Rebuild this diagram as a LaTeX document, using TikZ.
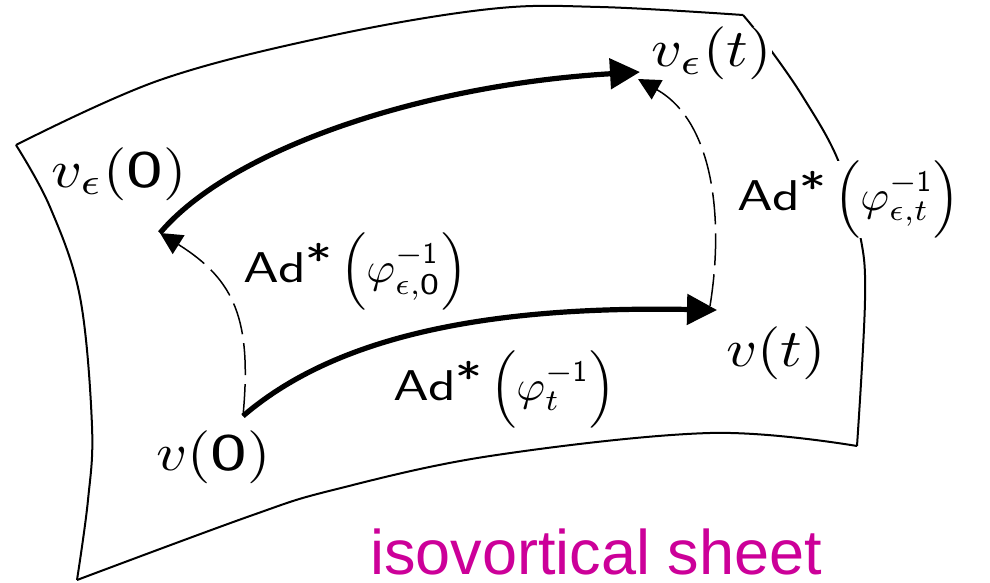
\documentclass[tikz,border=0pt]{standalone}
\usepackage{amsmath}
\usepackage{fontspec}
\newfontfamily\lib{Liberation Sans}
\newfontfamily\thsans[FakeStretch=1.3]{lmsans17-regular.otf}
\newfontfamily\thsansn{lmsans17-regular.otf}
\usetikzlibrary{arrows.meta}
\definecolor{mag}{RGB}{204,0,153}
\newcommand{\zr}{\text{\thsans 0}}
\newcommand{\on}{\text{\thsansn 1}}
\newcommand{\adst}{\text{\thsans Ad\raisebox{0.15em}{*}}}
\tikzset{
  sheet/.style={line width=1pt, line join=miter},
  solidarr/.style={line width=2.6pt, -{Triangle[length=15pt,width=15pt]}},
  dasharr/.style={line width=0.75pt, dash pattern=on 16pt off 4.5pt, -{Triangle[length=11pt,width=11pt]}},
  vlbl/.style={inner sep=0pt, xscale=3.0, yscale=2.65},
  adlbl/.style={inner sep=0pt, xscale=2.2, yscale=2.15},
}
\begin{document}
\begin{tikzpicture}[x=0.5pt,y=-0.5pt]
\useasboundingbox (0,0) rectangle (990,583);
% sheet outline
\draw[sheet] plot[smooth, tension=0.6] coordinates {(16,145) (160,80) (330,36) (490,9) (600,7) (743,15)};
\draw[sheet] plot[smooth, tension=0.6] coordinates {(743,15) (767,45) (803,97) (838,160) (860,235) (865,300) (857,446)};
\draw[sheet] plot[smooth, tension=0.6] coordinates {(77,580) (250,516) (333,490) (490,456) (710,433) (857,446)};
\draw[sheet] plot[smooth, tension=0.6] coordinates {(16,145) (50,207) (80,297) (92,426) (88,500) (77,580)};
% points
\coordinate (ve0) at (160,233);
\coordinate (vet1) at (640,72);
\coordinate (vet2) at (638,79);
\coordinate (v0) at (243,416);
\coordinate (vt1) at (717,310);
\coordinate (vt2) at (710,306);
% labels
\node[vlbl, anchor=base west] (lve0) at (50,187) {$v_\epsilon(\zr)$};
\node[vlbl, anchor=base west, fill=white] (lvet) at (650,67) {$v_\epsilon(t)$};
\node[vlbl, anchor=base west] (lv0) at (155,470) {$v(\zr)$};
\node[vlbl, anchor=base west] (lvt) at (725,366) {$v(t)$};
\node[adlbl, anchor=base west] (lab1) at (243,282) {$\adst\,\Bigl(\varphi^{-\on}_{\epsilon,\zr}\Bigr)$};
\node[adlbl, anchor=base west] (lab2) at (393,400) {$\adst\,\Bigl(\varphi^{-\on}_{t}\Bigr)$};
\node[adlbl, anchor=base west, fill=white] (lab3) at (737,210) {$\adst\,\Bigl(\varphi^{-\on}_{\epsilon,t}\Bigr)$};
\node[anchor=base west, inner sep=0pt, text depth=0pt, text=mag, font=\lib\fontsize{31.5}{36}\selectfont] (lsheet) at (370,574) {isovortical sheet};
% arrows
\draw[solidarr] (ve0) .. controls (230,150) and (420,85) .. (vet1);
\draw[solidarr] (v0) .. controls (320,350) and (450,305) .. (vt1);
\draw[dasharr] (v0) .. controls (252,320) and (235,280) .. (ve0);
\draw[dasharr] (vt2) .. controls (724,220) and (714,122) .. (vet2);
\end{tikzpicture}
\end{document}
